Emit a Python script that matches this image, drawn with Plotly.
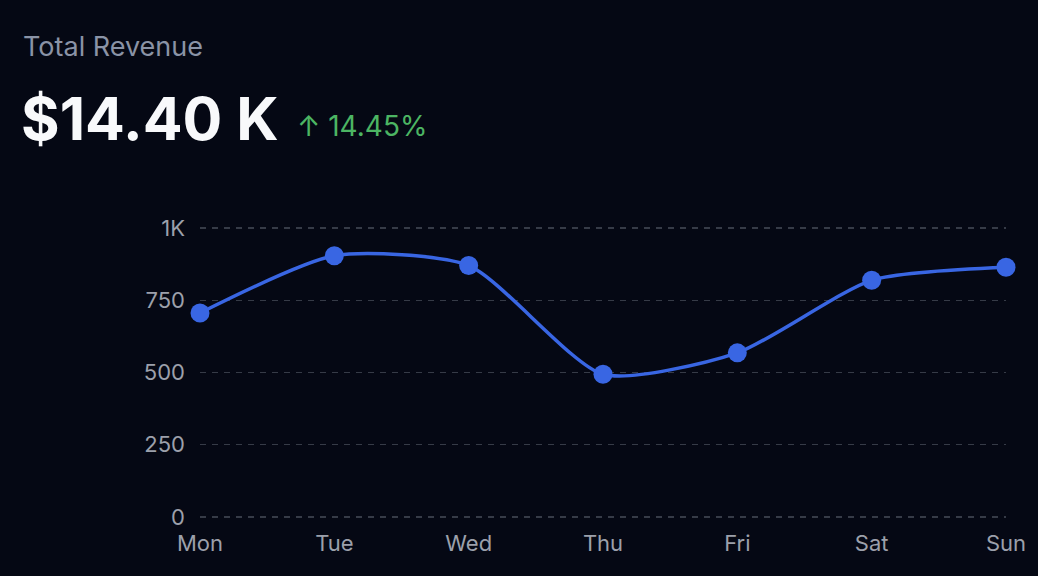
import plotly.graph_objects as go

days = ["Mon", "Tue", "Wed", "Thu", "Fri", "Sat", "Sun"]
revenue = [706, 904, 870, 494, 568, 819, 864]
y_tickvals = [0, 250, 500, 750, 1000]
y_ticktext = ["0", "250", "500", "750", "1K"]

title_text = "Total Revenue"
total_text = "$14.40 K"
change_text = "↑ 14.45%"

BG = "#050814"
FONT = "Inter, 'Noto Sans', sans-serif"

fig = go.Figure()
fig.add_trace(go.Scatter(
    x=days, y=revenue, mode="lines+markers",
    line=dict(color="#3966e3", width=3.5, shape="spline", smoothing=0.65),
    marker=dict(color="#3966e3", size=19),
    cliponaxis=False, hoverinfo="skip",
))

W, H = 1038, 576
L, R, T, B = 200, 32, 226, 57
pw, ph = W - L - R, H - T - B

def px(x):
    return (x - L) / pw

def py(y):
    return (H - B - y) / ph

fig.update_layout(
    width=W, height=H,
    margin=dict(l=L, r=R, t=T, b=B),
    paper_bgcolor=BG, plot_bgcolor=BG,
    showlegend=False, hovermode=False,
    font=dict(family=FONT, color="#9ca0ab", size=22),
    xaxis=dict(
        type="category", range=[0, 6], showgrid=False, zeroline=False,
        showline=False, ticks="", tickfont=dict(size=22, color="#9ca0ab"),
        ticklabelstandoff=9, fixedrange=True,
    ),
    yaxis=dict(
        range=[-7, 1007], tickvals=y_tickvals, ticktext=y_ticktext,
        showgrid=True, gridcolor="#363b47", griddash="6px,6px", gridwidth=1.3,
        zeroline=False, showline=False, ticks="",
        tickfont=dict(size=22, color="#9ca0ab"), ticklabelstandoff=14,
        fixedrange=True,
    ),
    annotations=[
        dict(text=title_text, xref="paper", yref="paper", x=px(21), y=py(46),
             xanchor="left", yanchor="middle", showarrow=False,
             font=dict(family=FONT, size=27, color="#8a93a6")),
        dict(text="<b>" + total_text + "</b>", xref="paper", yref="paper",
             x=px(19), y=py(119), xanchor="left", yanchor="middle", showarrow=False,
             font=dict(family=FONT, size=59, color="#f8f9fb")),
        dict(text=change_text, xref="paper", yref="paper", x=px(295), y=py(126),
             xanchor="left", yanchor="middle", showarrow=False,
             font=dict(family=FONT, size=28, color="#4cb563")),
    ],
)

fig.write_html(
    "out.html",
    config={"displayModeBar": False, "staticPlot": True},
    post_script="document.body.style.margin='0';document.body.style.background='%s';" % BG,
)
